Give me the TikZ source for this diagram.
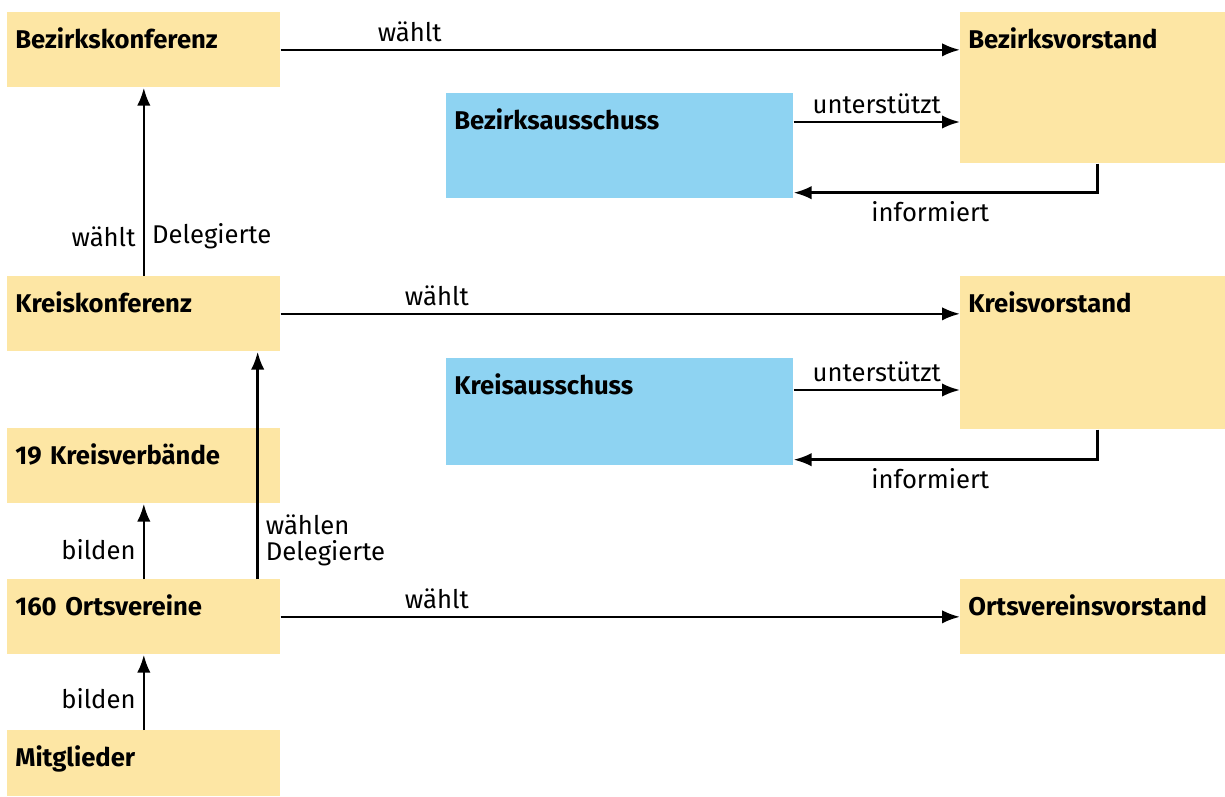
\documentclass[tikz,border=0pt]{standalone}
\usepackage{fontspec}
\setmainfont{Fira Sans}
\usepackage{tikz}
\usetikzlibrary{arrows.meta,calc,positioning}
\definecolor{gelb}{RGB}{253,230,164}
\definecolor{blau}{RGB}{142,211,242}
\tikzset{
    pfeil/.style={-{Latex[length=0.36cm,width=0.27cm]},line width=1.45pt},
    box/.style={fill=gelb, anchor=north west, align=left, font=\bfseries,
        inner xsep=0.16cm, inner ysep=0.36cm, text height=0.37cm, text depth=#1},
    konf/.style={box=#1, text width=5.14cm},
    vorst/.style={box=#1, text width=4.98cm},
    aussch/.style={box=#1, fill=blau, text width=6.62cm},
    el/.style={inner sep=4pt, align=left}
}
\begin{document}
\fontsize{14.6pt}{15pt}\selectfont
\begin{tikzpicture}[x=0.02cm,y=-0.02cm]
    \useasboundingbox (0,0) rectangle (1225,796);
    \node[konf=0.41cm] (bk) at (7,12) {Bezirkskonferenz};
    \node[konf=0.41cm] (kk) at (7,276) {Kreiskonferenz};
    \node[konf=0.41cm] (kv) at (7,428) {19 Kreisverbände};
    \node[konf=0.41cm] (ov) at (7,579) {160 Ortsvereine};
    \node[konf=0.23cm] (mg) at (7,730) {Mitglieder};
    \node[vorst=1.93cm] (bv) at (960,12) {Bezirksvorstand};
    \node[aussch=1.01cm] (ba) at (446,93) {Bezirksausschuss};
    \node[vorst=1.97cm] (kvs) at (960,276) {Kreisvorstand};
    \node[aussch=1.05cm] (ka) at (446,358) {Kreisausschuss};
    \node[vorst=0.41cm] (ovv) at (960,579) {Ortsvereinsvorstand};

    % waehlt nach rechts
    \draw[pfeil] (bk.east) -- (bk.east -| bv.west) node[el,above,pos=0.19] {wählt};
    \draw[pfeil] (kk.east) -- (kk.east -| kvs.west) node[el,above,pos=0.23] {wählt};
    \draw[pfeil] (ov.east) -- (ov.east -| ovv.west) node[el,above,pos=0.23] {wählt};

    % ausschuesse
    \draw[pfeil] ([yshift=-0.58cm]ba.north east) coordinate (u1) -- (u1 -| bv.west)
        node[el,above,midway] {unterstützt};
    \draw[pfeil] ([xshift=0.09cm]bv.south) |- ([yshift=0.12cm]ba.south east)
        node[el,below,pos=0.775] {informiert};
    \draw[pfeil] ([yshift=-0.64cm]ka.north east) coordinate (u2) -- (u2 -| kvs.west)
        node[el,above,midway] {unterstützt};
    \draw[pfeil] ([xshift=0.09cm]kvs.south) |- ([yshift=0.12cm]ka.south east)
        node[el,below,pos=0.775] {informiert};

    % nach oben
    \draw[pfeil] (kk.north) -- (bk.south)
        node[el,left,pos=0.21] {wählt} node[el,right,pos=0.21] {Delegierte};
    \draw[pfeil] ([xshift=-0.46cm]ov.north east) coordinate (d1) -- (d1 |- kk.south)
        node[el,right,pos=0.17] {wählen\\Delegierte};
    \draw[pfeil] (ov.north) -- (kv.south) node[el,left,pos=0.39] {bilden};
    \draw[pfeil] (mg.north) -- (ov.south) node[el,left,pos=0.41] {bilden};
\end{tikzpicture}
\end{document}
